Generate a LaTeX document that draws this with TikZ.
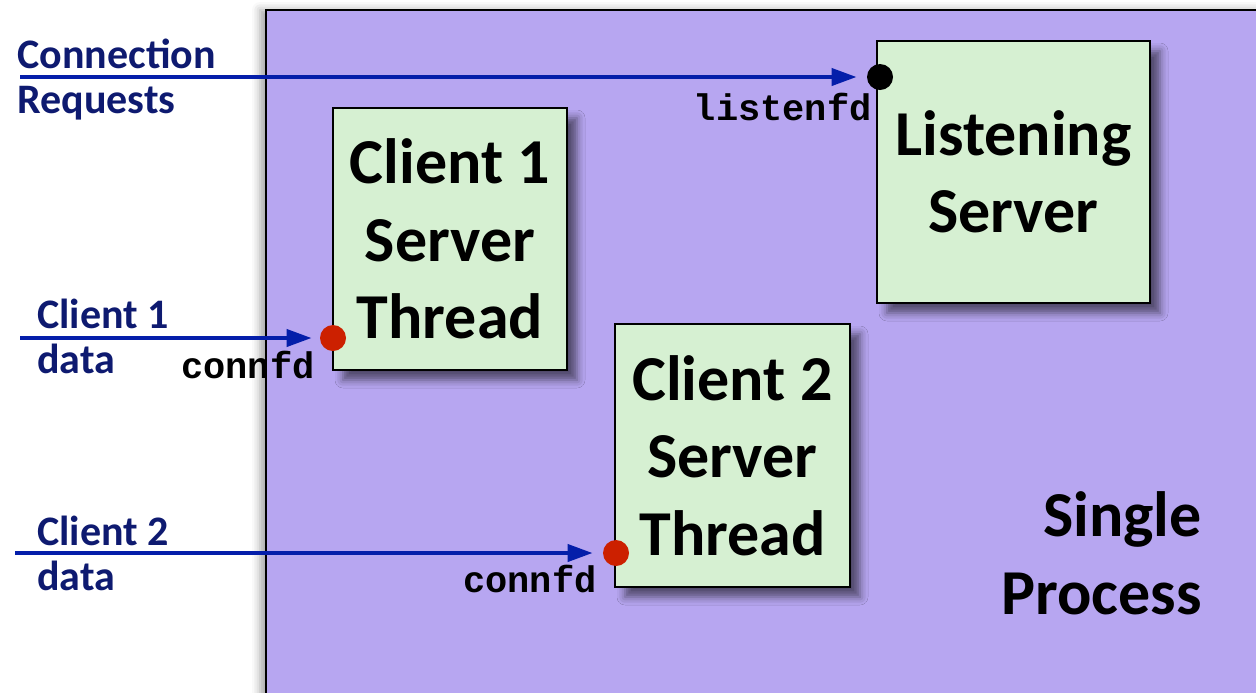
\documentclass[tikz,border=0pt]{standalone}
\usepackage{fontspec}
\setmainfont{Carlito}
\newfontfamily\codefont{Liberation Mono}
\usetikzlibrary{arrows.meta,shadows.blur,calc}

\definecolor{procfill}{RGB}{183,166,241}
\definecolor{boxfill}{RGB}{214,240,210}
\definecolor{navytext}{RGB}{14,26,112}
\definecolor{arrowblue}{RGB}{4,30,170}
\definecolor{fdred}{RGB}{204,32,0}

\tikzset{
  process/.style={draw=black, line width=1.3pt, fill=procfill,
    blur shadow={shadow xshift=-3pt, shadow yshift=0pt, shadow blur radius=4pt, shadow opacity=35}},
  taskbox/.style={draw=black, line width=1.2pt, fill=boxfill, inner sep=0pt,
    font=\bfseries\fontsize{32}{38.75}\selectfont, align=center,
    blur shadow={shadow xshift=5pt, shadow yshift=-5pt, shadow blur radius=4pt, shadow opacity=55}},
  sidelabel/.style={font=\bfseries\fontsize{21}{22.5}\selectfont, text=navytext,
    align=left, anchor=base west, inner sep=0pt},
  fdlabel/.style={font=\codefont\bfseries\fontsize{18.5}{20}\selectfont,
    anchor=base east, inner sep=0pt},
  fddot/.style={circle, inner sep=0pt, minimum size=13pt},
  feed/.style={draw=arrowblue, line width=2pt,
    -{Triangle[length=12.5pt,width=8.5pt]}},
}

\begin{document}
\begin{tikzpicture}[x=0.5pt,y=-0.5pt]
  \useasboundingbox (0,0) rectangle (1256,692);
  \begin{scope}
    \clip (0,0) rectangle (1256,692);
    % the single process
    \path[process] (266,10) rectangle (1300,740);

    % threads
    \node[taskbox, minimum width=117pt, minimum height=131pt] (c1) at (450,239)
      {Client 1\\Server\\Thread};
    \node[taskbox, minimum width=136.5pt, minimum height=131pt] (ls) at (1013.5,172)
      {Listening\\Server};
    \node[taskbox, minimum width=117.5pt, minimum height=131.5pt] (c2) at (732.5,455.5)
      {Client 2\\Server\\Thread};

    \node[font=\bfseries\fontsize{32}{39}\selectfont, align=right, anchor=east, inner sep=0pt]
      (proc) at (1202,553) {Single\\Process};

    % descriptors
    \node[fddot, fill=black] (ldot) at (880,77) {};
    \node[fddot, fill=fdred] (c1dot) at (333,338) {};
    \node[fddot, fill=fdred] (c2dot) at (616,553) {};

    \node[fdlabel] (lfd) at (872,120) {listenfd};
    \node[fdlabel] (c1fd) at (315,378) {connfd};
    \node[fdlabel] (c2fd) at (597,592) {connfd};

    % incoming traffic
    \coordinate (reqin) at (20,77);
    \coordinate (c1in) at (20,338);
    \coordinate (c2in) at (15,553);
    \draw[feed, shorten >=5pt] (reqin) -- (ldot);
    \draw[feed, shorten >=4pt] (c1in) -- (c1dot);
    \draw[feed, shorten >=5pt] (c2in) -- (c2dot);

    % multi-line labels: the base anchor sits on the last line
    \node[sidelabel] (reqlbl) at (17,113) {Connection\\Requests};
    \node[sidelabel] (c1lbl) at (37,373) {Client 1\\data};
    \node[sidelabel] (c2lbl) at (37,590) {Client 2\\data};
  \end{scope}
\end{tikzpicture}
\end{document}
